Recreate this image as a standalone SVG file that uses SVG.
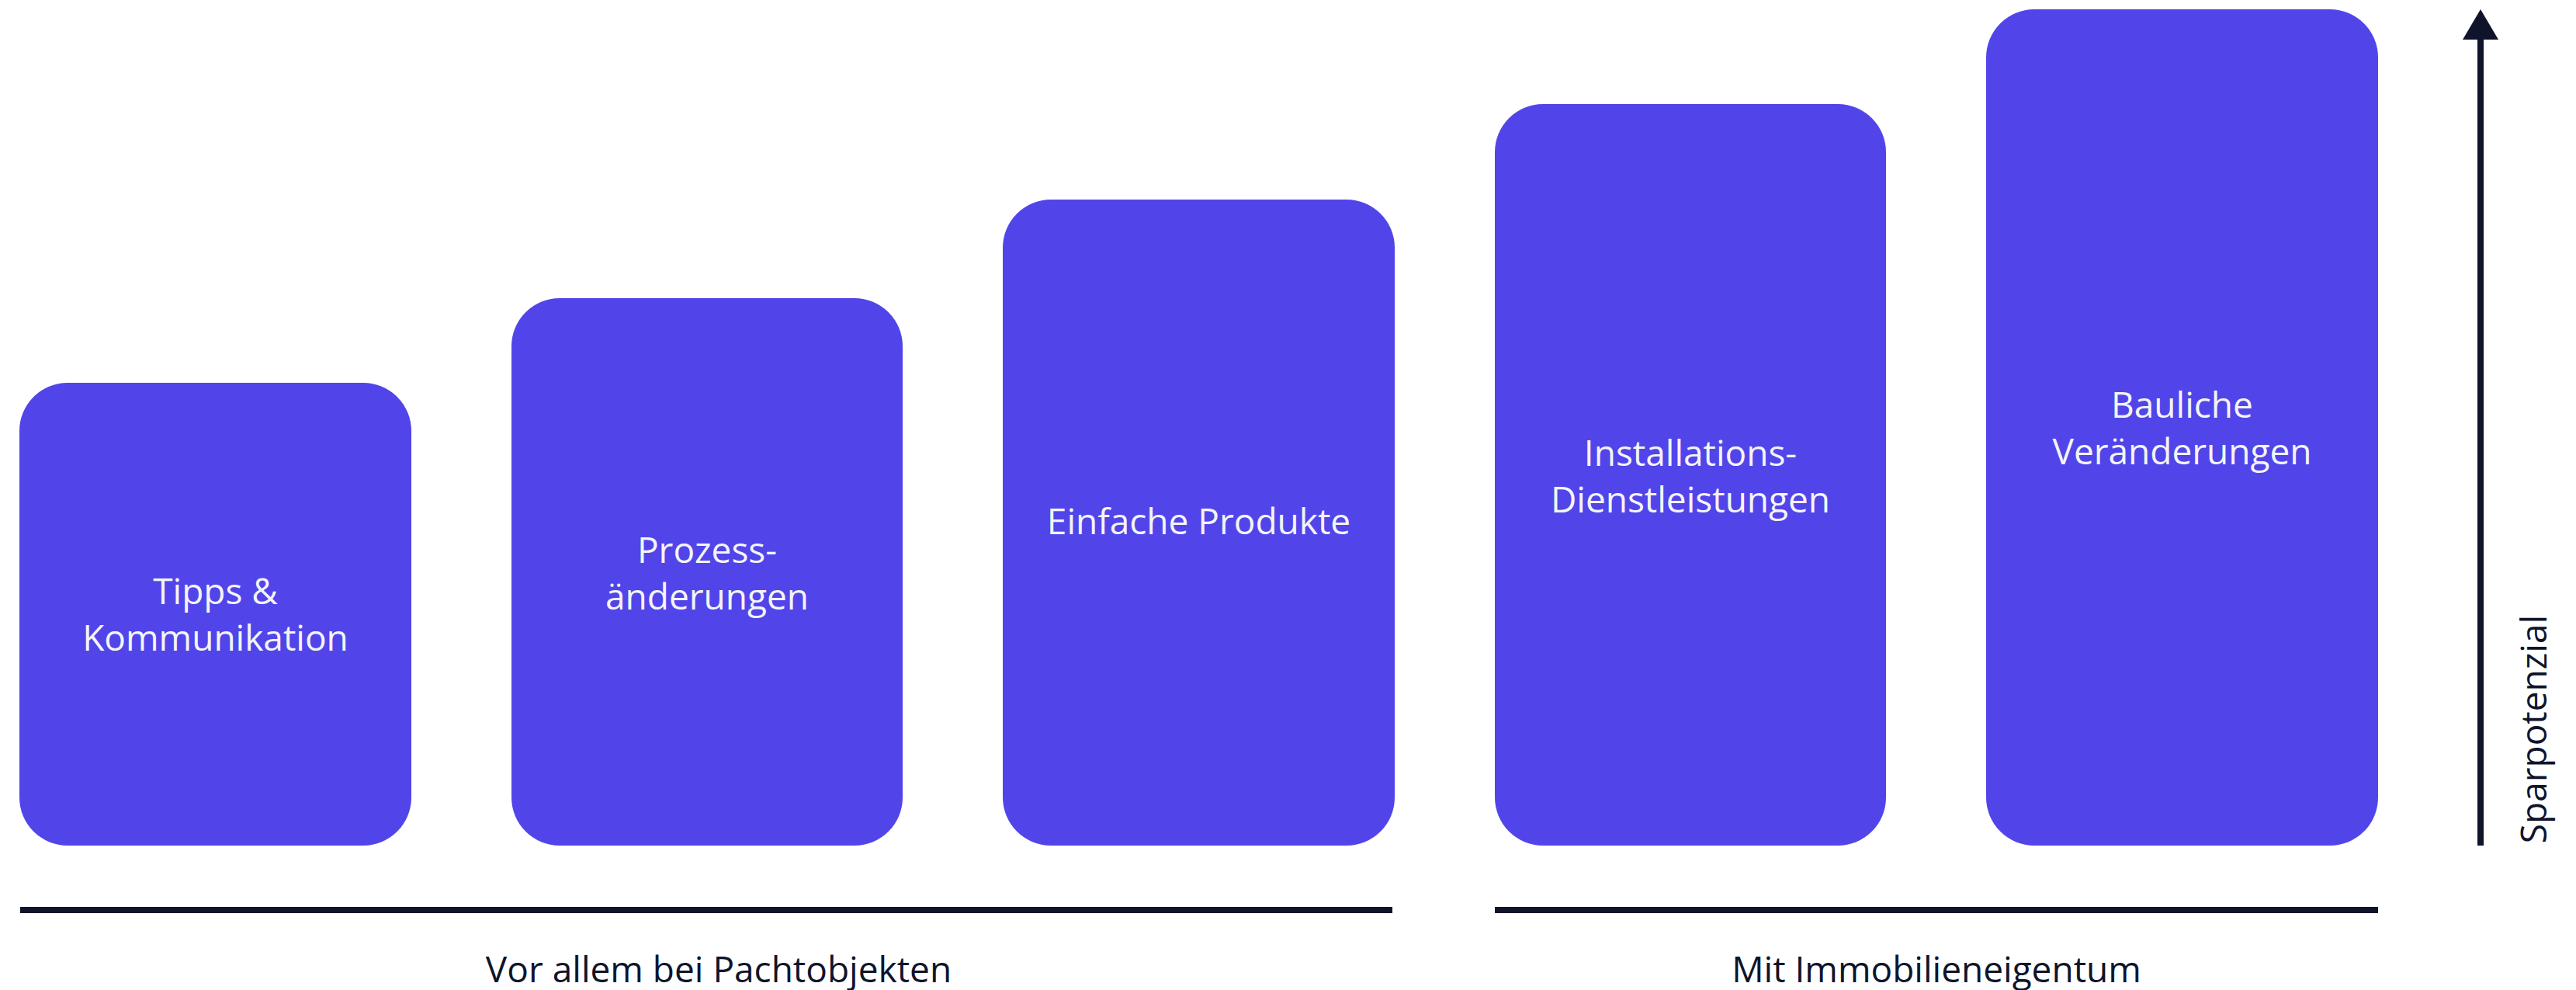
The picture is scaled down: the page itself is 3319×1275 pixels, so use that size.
<svg xmlns="http://www.w3.org/2000/svg" width="3319" height="1275" viewBox="0 0 3319 1275">
<style>
.box{fill:#5145EA;}
.bt{font-family:"Open Sans","Noto Sans",sans-serif;font-size:46px;fill:#F4F4F6;text-anchor:middle;}
.lb{font-family:"Open Sans","Noto Sans",sans-serif;font-size:46px;fill:#0F142B;text-anchor:middle;}
.dk{fill:#0F142B;}
</style>
<rect width="3319" height="1275" fill="#FFFFFF"/>
<g id="node-tipps">
<rect class="box" x="25" y="493" width="505" height="596" rx="62" ry="62"/>
<text class="bt" x="277.5" y="778">Tipps &amp;</text>
<text class="bt" x="277.5" y="838">Kommunikation</text>
</g>
<g id="node-prozess">
<rect class="box" x="659" y="384" width="504" height="705" rx="62" ry="62"/>
<text class="bt" x="911" y="725">Prozess-</text>
<text class="bt" x="911" y="785">änderungen</text>
</g>
<g id="node-produkte">
<rect class="box" x="1292" y="257" width="505" height="832" rx="62" ry="62"/>
<text class="bt" x="1544.5" y="688">Einfache Produkte</text>
</g>
<g id="node-installation">
<rect class="box" x="1926" y="134" width="504" height="955" rx="62" ry="62"/>
<text class="bt" x="2178" y="600">Installations-</text>
<text class="bt" x="2178" y="660">Dienstleistungen</text>
</g>
<g id="node-baulich">
<rect class="box" x="2559" y="12" width="505" height="1077" rx="62" ry="62"/>
<text class="bt" x="2811.5" y="538">Bauliche</text>
<text class="bt" x="2811.5" y="598">Veränderungen</text>
</g>
<g id="connectors">
<rect class="dk" x="26" y="1168" width="1768" height="8"/>
<rect class="dk" x="1926" y="1168" width="1138" height="8"/>
<rect class="dk" x="3192" y="50" width="8" height="1039"/>
<polygon class="dk" points="3173,51 3219,51 3196,12"/>
</g>
<g id="labels">
<text class="lb" x="926" y="1265">Vor allem bei Pachtobjekten</text>
<text class="lb" x="2495" y="1265">Mit Immobilieneigentum</text>
<text class="lb" x="3281" y="939" transform="rotate(-90 3281 939)">Sparpotenzial</text>
</g>
</svg>
